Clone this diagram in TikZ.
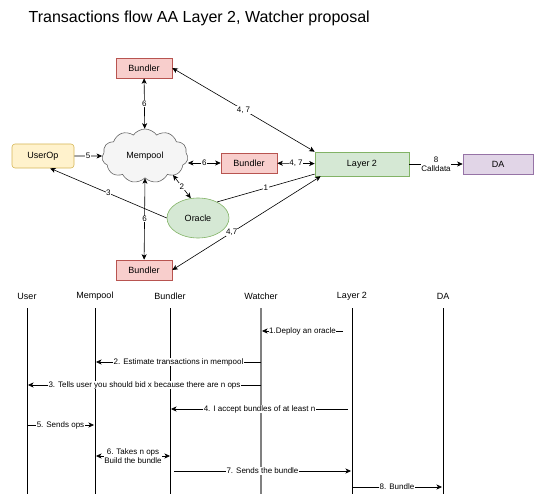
\documentclass[tikz,border=0pt]{standalone}
\usepackage{fontspec}
\setmainfont{Liberation Sans}
\usetikzlibrary{shapes.symbols,shapes.geometric,arrows.meta}

\definecolor{bundfill}{HTML}{F8CECC}
\definecolor{bundline}{HTML}{B85450}
\definecolor{userfill}{HTML}{FFF2CC}
\definecolor{userline}{HTML}{D6B656}
\definecolor{memfill}{HTML}{F5F5F5}
\definecolor{memline}{HTML}{666666}
\definecolor{ltwofill}{HTML}{D5E8D4}
\definecolor{ltwoline}{HTML}{82B366}
\definecolor{dafill}{HTML}{E1D5E7}
\definecolor{daline}{HTML}{9673A6}

\tikzset{
    bundler/.style={draw=bundline, fill=bundfill, minimum width=56pt, minimum height=20pt, font=\fontsize{9}{10}\selectfont},
    lbl/.style={fill=white, inner sep=0.6pt, font=\fontsize{8}{9}\selectfont},
    head/.style={font=\fontsize{9}{10}\selectfont},
}

\begin{document}
\begin{tikzpicture}[x=1pt, y=-1pt, >={Stealth[length=5.5pt,width=5pt,inset=1.5pt]}, semithick]
    \useasboundingbox (0,0) rectangle (538,500);

    \node[anchor=west, font=\fontsize{16}{18}\selectfont] (title) at (25,18) {Transactions flow AA Layer 2, Watcher proposal};

    % top part
    \node[bundler] (btop) at (144,68) {Bundler};
    \node[bundler] (bmid) at (249,163) {Bundler};
    \node[bundler] (bbot) at (144,270) {Bundler};
    \node[draw=userline, fill=userfill, rounded corners=3pt, minimum width=62pt, minimum height=24pt, font=\fontsize{9}{10}\selectfont] (userop) at (43,156) {UserOp};
    \node[cloud, cloud puffs=11, cloud puff arc=110, aspect=1.7, draw=memline, fill=memfill, minimum width=86pt, minimum height=54pt, inner sep=0pt, font=\fontsize{9}{10}\selectfont] (mempool) at (145,156) {Mempool};
    \node[draw=ltwoline, fill=ltwofill, minimum width=94pt, minimum height=24pt, font=\fontsize{9}{10}\selectfont] (layer2) at (362,164) {Layer 2};
    \node[draw=daline, fill=dafill, minimum width=70pt, minimum height=20pt, font=\fontsize{9}{10}\selectfont] (da) at (498,164) {DA};
    \node[ellipse, draw=ltwoline, fill=ltwofill, minimum width=62pt, minimum height=40pt, font=\fontsize{9}{10}\selectfont] (oracle) at (198,218) {Oracle};
    \coordinate (ltwofoot) at ([xshift=6pt]layer2.south west);

    \draw[<->] (btop) -- (mempool) node[midway,lbl]{6};
    \draw[<->] (btop.east) -- (layer2.north west) node[midway,lbl]{4, 7};
    \draw[->] (userop) -- (mempool) node[midway,lbl]{5};
    \draw[<->] (mempool.east |- bmid) -- (bmid) node[midway,lbl]{6};
    \draw[<->] (bmid) -- (layer2) node[midway,lbl]{4, 7};
    \draw[->] (layer2) -- (da) node[midway,lbl,align=center]{8\\Calldata};
    \draw[<->] (173,175) -- (oracle.110) node[midway,lbl]{2};
    \draw[->] (oracle.west) -- (userop.-60) node[midway,lbl]{3};
    \draw (oracle.40) -- (layer2.-168) node[midway,lbl]{1};
    \draw[<->] (ltwofoot) -- (bbot.east) node[pos=0.6,lbl]{4,7};
    \draw[<->] (mempool.south) -- (bbot) node[midway,lbl]{6};

    % sequence part
    \node[head] (huser) at (27,296) {User};
    \node[head] (hmem) at (95,296) {Mempool};
    \node[head] (hbund) at (170,296) {Bundler};
    \node[head] (hwat) at (261,296) {Watcher};
    \node[head] (hltwo) at (352,296) {Layer 2};
    \node[head] (hda) at (443,296) {DA};

    \coordinate (euser) at (27,494);
    \coordinate (emem) at (95,494);
    \coordinate (ebund) at (170,494);
    \coordinate (ewat) at (261,494);
    \coordinate (eltwo) at (352,494);
    \coordinate (eda) at (443,494);

    \draw (huser.south |- 0,308) -- (euser);
    \draw (hmem.south |- 0,308) -- (emem);
    \draw (hbund.south |- 0,308) -- (ebund);
    \draw[gray, line width=1.6pt] (hwat.south |- 0,308) -- (ewat);
    \draw (hltwo.south |- 0,308) -- (eltwo);
    \draw (hda.south |- 0,308) -- (eda);

    \draw[->] (343,331) -- (262,331) node[midway,lbl]{1.Deploy an oracle};
    \draw[->] (261,362) -- (96,362) node[midway,lbl]{2. Estimate transactions in mempool};
    \draw[->] (261,385) -- (28,385) node[midway,lbl]{3. Tells user you should bid x because there are n ops};
    \draw[->] (348,409) -- (171,409) node[midway,lbl]{4. I accept bundles of at least n};
    \draw[->] (27,425) -- (94,425) node[midway,lbl]{5. Sends ops};
    \draw[<->] (96,456) -- (170,456) node[midway,lbl,align=center]{6. Takes n ops\\Build the bundle};
    \draw[->] (174,471) -- (351,471) node[midway,lbl]{7. Sends the bundle};
    \draw[->] (352,487) -- (442,487) node[midway,lbl]{8. Bundle};
\end{tikzpicture}
\end{document}
